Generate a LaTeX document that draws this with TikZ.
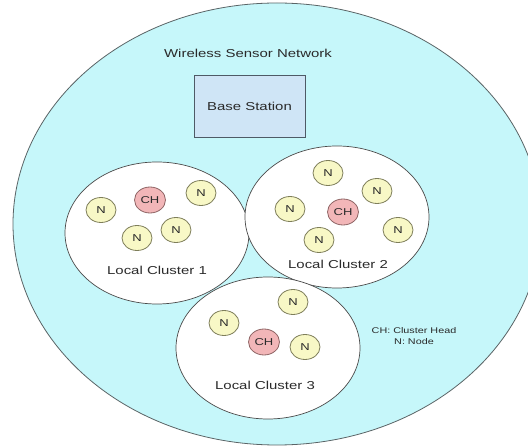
\documentclass[tikz,border=0pt]{standalone}
\usepackage{fontspec}
\setmainfont{Liberation Sans}[FakeStretch=1.3]
\usetikzlibrary{shapes.geometric}
\definecolor{wsnfill}{HTML}{C6F7FA}
\definecolor{wsnline}{HTML}{5A6466}
\definecolor{clfill}{HTML}{FFFFFF}
\definecolor{clline}{HTML}{4A4A4A}
\definecolor{nfill}{HTML}{F8F8C6}
\definecolor{nline}{HTML}{7E7E5A}
\definecolor{chfill}{HTML}{F2B6B8}
\definecolor{chline}{HTML}{8E6464}
\definecolor{bsfill}{HTML}{CFE5F6}
\definecolor{bsline}{HTML}{4E5A66}
\definecolor{txt}{HTML}{2A2A2A}
\tikzset{
  wsn/.style={ellipse, draw=wsnline, fill=wsnfill, line width=0.8pt, inner sep=0pt},
  cluster/.style={ellipse, draw=clline, fill=clfill, line width=0.7pt, inner sep=0pt,
    minimum width=184pt, minimum height=142pt},
  nnode/.style={ellipse, draw=nline, fill=nfill, line width=0.8pt, inner sep=0pt,
    minimum width=30pt, minimum height=25pt, text=txt, font=\fontsize{10}{11}\selectfont},
  chnode/.style={ellipse, draw=chline, fill=chfill, line width=0.8pt, inner sep=0pt,
    minimum width=31pt, minimum height=26pt, text=txt, font=\fontsize{10}{11}\selectfont},
  label/.style={text=txt, inner sep=0pt, font=\fontsize{11.5}{13}\selectfont},
  legend/.style={text=txt, inner sep=0pt, font=\fontsize{8.3}{10.5}\selectfont, align=center},
  bstation/.style={rectangle, draw=bsline, fill=bsfill, line width=0.7pt, inner sep=0pt,
    minimum width=111pt, minimum height=62pt, text=txt, font=\fontsize{11.5}{13}\selectfont}
}
\begin{document}
\begin{tikzpicture}[x=1pt,y=-1pt]
\useasboundingbox (0,0) rectangle (528,446);
\fill[white] (0,0) rectangle (528,446);
\clip (0,0) rectangle (528,446);
\node[wsn, minimum width=528pt, minimum height=442pt] (wsn) at (277,224) {};
\node[label] (title) at (248,53) {Wireless Sensor Network};
\node[bstation] (bs) at (249.5,106) {Base Station};
% clusters
\node[cluster] (c1) at (157,233) {};
\node[cluster] (c2) at (337,217) {};
\node[cluster] (c3) at (268,348) {};
% cluster 1
\node[nnode] (n11) at (101,210) {N};
\node[chnode] (ch1) at (150,200) {CH};
\node[nnode] (n12) at (201,193) {N};
\node[nnode] (n13) at (137,238) {N};
\node[nnode] (n14) at (176,230) {N};
\node[label] (l1) at (157,270) {Local Cluster 1};
% cluster 2
\node[nnode] (n21) at (328,173) {N};
\node[nnode] (n22) at (377,191) {N};
\node[nnode] (n23) at (290,209) {N};
\node[chnode] (ch2) at (343,212) {CH};
\node[nnode] (n24) at (319,240) {N};
\node[nnode] (n25) at (398,230) {N};
\node[label] (l2) at (338,264) {Local Cluster 2};
% cluster 3
\node[nnode] (n31) at (293,302) {N};
\node[nnode] (n32) at (224,323) {N};
\node[chnode] (ch3) at (264,342) {CH};
\node[nnode] (n33) at (305,347) {N};
\node[label] (l3) at (265,385) {Local Cluster 3};
% legend
\node[legend] (lg) at (414,336) {CH: Cluster Head\\N: Node};
\end{tikzpicture}
\end{document}
